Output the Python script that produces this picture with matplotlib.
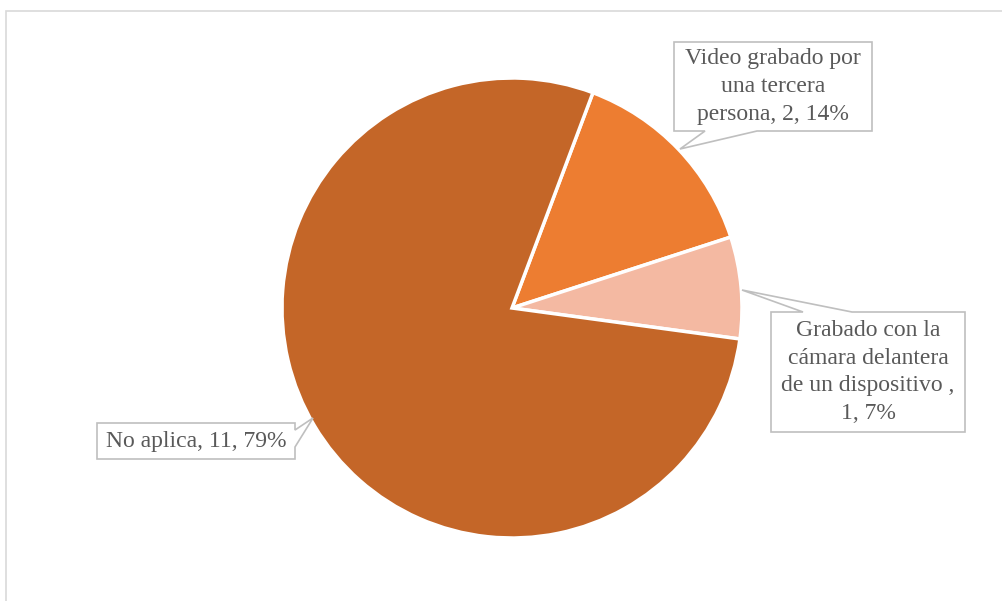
import matplotlib.pyplot as plt
from matplotlib.patches import Polygon, Rectangle

# Datos del gráfico
categorias = ["Video grabado por\nuna tercera\npersona",
              "Grabado con la\ncámara delantera\nde un dispositivo ",
              "No aplica"]
valores = [2, 1, 11]
separadores = [", ", ",\n", ", "]
colores = ["#ED7D31", "#F4B9A2", "#C46628"]

W, H = 1003, 601
fig = plt.figure(figsize=(W / 100, H / 100), dpi=100)
fig.patch.set_facecolor("white")

# marco del área del gráfico
fig.add_artist(Rectangle((6 / W, -0.1), 1.2, (H - 11) / H + 0.1,
                         transform=fig.transFigure, fill=False,
                         edgecolor="#D9D9D9", linewidth=1.2))

cx, cy, r = 512, 308, 230
ax = fig.add_axes([(cx - r) / W, (H - cy - r) / H, 2 * r / W, 2 * r / H])
ax.pie(valores, colors=colores, startangle=69.4, counterclock=False,
       radius=1, wedgeprops=dict(edgecolor="white", linewidth=2.5))
ax.set_xlim(-1, 1)
ax.set_ylim(-1, 1)
ax.set_aspect("equal")
ax.axis("off")

total = sum(valores)
etiquetas = [f"{c}{s}{v}, {round(v / total * 100)}%"
             for c, v, s in zip(categorias, valores, separadores)]

# cajas de llamada: rectángulo (x0, y0, x1, y1) y puntero (base a, punta, base b)
cajas = [
    ((674, 42, 872, 131), [(757, 131), (680, 149), (705, 131)]),
    ((771, 312, 965, 432), [(803, 312), (742, 290), (852, 312)]),
    ((97, 423, 295, 459), [(295, 447), (313, 418), (295, 430)]),
]


def a_fig(p):
    return (p[0] / W, (H - p[1]) / H)


for (x0, y0, x1, y1), puntero in cajas:
    if puntero[0][1] == y1:  # puntero en el borde inferior
        pts = [(x0, y0), (x1, y0), (x1, y1)] + puntero + [(x0, y1)]
    elif puntero[0][1] == y0:  # puntero en el borde superior
        pts = [(x0, y0)] + puntero + [(x1, y0), (x1, y1), (x0, y1)]
    else:  # puntero en el borde derecho
        pts = [(x0, y0), (x1, y0)] + puntero[::-1] + [(x1, y1), (x0, y1)]
    fig.add_artist(Polygon([a_fig(p) for p in pts], closed=True,
                           transform=fig.transFigure, facecolor="white",
                           edgecolor="#BFBFBF", linewidth=1.2))

for ((x0, y0, x1, y1), _), texto in zip(cajas, etiquetas):
    fig.text((x0 + x1) / 2 / W, (H - (y0 + y1) / 2) / H, texto,
             ha="center", va="center", ma="center", color="#595959",
             family="Liberation Serif", fontsize=17, linespacing=1.42)

fig.savefig("out.png", dpi=100)
